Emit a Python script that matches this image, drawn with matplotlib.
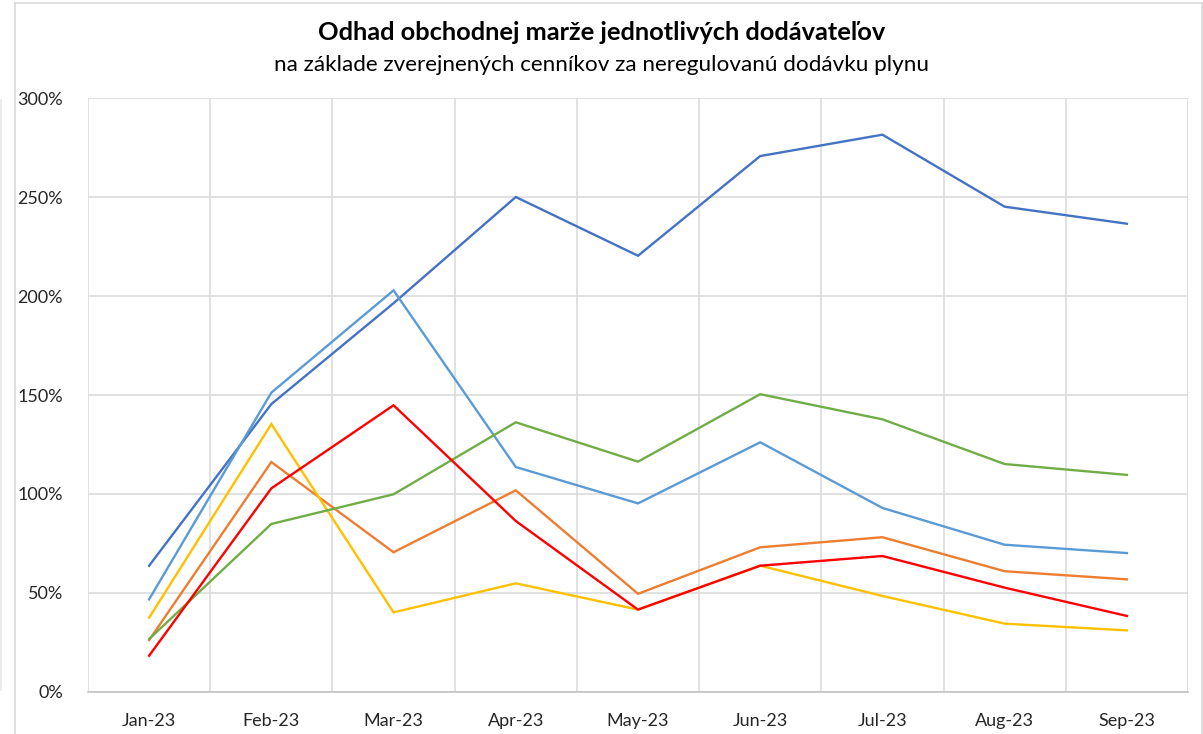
import matplotlib.pyplot as plt
from matplotlib.lines import Line2D
from matplotlib.ticker import FixedLocator, PercentFormatter

months = ["Jan-23", "Feb-23", "Mar-23", "Apr-23", "May-23",
          "Jun-23", "Jul-23", "Aug-23", "Sep-23"]

# odhad marze v % (odcitane z grafu)
dark_blue = [63.7, 145.4, 196.4, 250.1, 220.4, 270.8, 281.6, 245.2, 236.6]
light_blue = [46.7, 151.2, 202.9, 113.6, 95.2, 126.1, 92.9, 74.3, 70.1]
orange = [26.1, 116.1, 70.5, 101.8, 49.5, 73.0, 78.1, 60.9, 56.8]
yellow = [37.4, 135.3, 40.1, 54.8, 41.5, 63.7, 48.4, 34.4, 31.0]
green = [26.6, 84.8, 99.8, 136.2, 116.3, 150.4, 137.7, 115.1, 109.6]
red = [18.2, 102.8, 144.8, 86.3, 41.5, 63.7, 68.6, 52.6, 38.3]

series = [
    (dark_blue, "#4472C4"),
    (light_blue, "#5B9BD5"),
    (orange, "#ED7D31"),
    (yellow, "#FFC000"),
    (green, "#70AD47"),
    (red, "#FF0000"),
]

plt.rcParams["font.family"] = ["Lato", "DejaVu Sans"]

W, H = 1203, 734
fig = plt.figure(figsize=(W / 100, H / 100), dpi=100)

# okraje grafu (ako v Exceli)
grey = "#d9d9d9"
fig.add_artist(Line2D([15 / W, 15 / W], [0, 1 - 3 / H], color=grey, lw=1.2))
fig.add_artist(Line2D([15 / W, 1201.5 / W], [1 - 3 / H, 1 - 3 / H], color=grey, lw=1.2))
fig.add_artist(Line2D([1201.5 / W, 1201.5 / W], [0, 1 - 3 / H], color=grey, lw=1.2))
fig.add_artist(Line2D([1 / W, 1 / W], [1 - 100 / H, 1 - 690 / H], color="#e6e6e6", lw=1.2))

ax = fig.add_axes([88 / W, (H - 691.7) / H, 1100 / W, 593.4 / H])

x = list(range(len(months)))
for values, color in series:
    ax.plot(x, values, color=color, lw=1.7, solid_joinstyle="miter")

ax.set_xlim(-0.5, len(months) - 0.5)
ax.set_ylim(0, 300)
ax.set_yticks([0, 50, 100, 150, 200, 250, 300])
ax.yaxis.set_major_formatter(PercentFormatter(decimals=0))
ax.set_xticks(x)
ax.set_xticklabels(months)
ax.xaxis.set_minor_locator(FixedLocator([i - 0.5 for i in range(len(months) + 1)]))

ax.grid(axis="y", which="major", color=grey, lw=1.1)
ax.grid(axis="x", which="minor", color=grey, lw=1.1)
ax.set_axisbelow(True)

for s in ["top", "right", "left"]:
    ax.spines[s].set_visible(False)
ax.spines["bottom"].set_color("#bfbfbf")
ax.spines["bottom"].set_linewidth(1.1)

ax.tick_params(axis="both", which="both", length=0, labelsize=13, colors="#262626")
ax.tick_params(axis="y", pad=18)
ax.tick_params(axis="x", pad=15)

fig.text(0.5, 1 - 32 / H, "Odhad obchodnej marže jednotlivých dodávateľov",
         ha="center", va="center", fontsize=18.3, fontweight="bold", color="black")
fig.text(0.5, 1 - 65 / H, "na základe zverejnených cenníkov za neregulovanú dodávku plynu",
         ha="center", va="center", fontsize=16.2, color="black")

fig.savefig("out.png", dpi=100, facecolor="white")
